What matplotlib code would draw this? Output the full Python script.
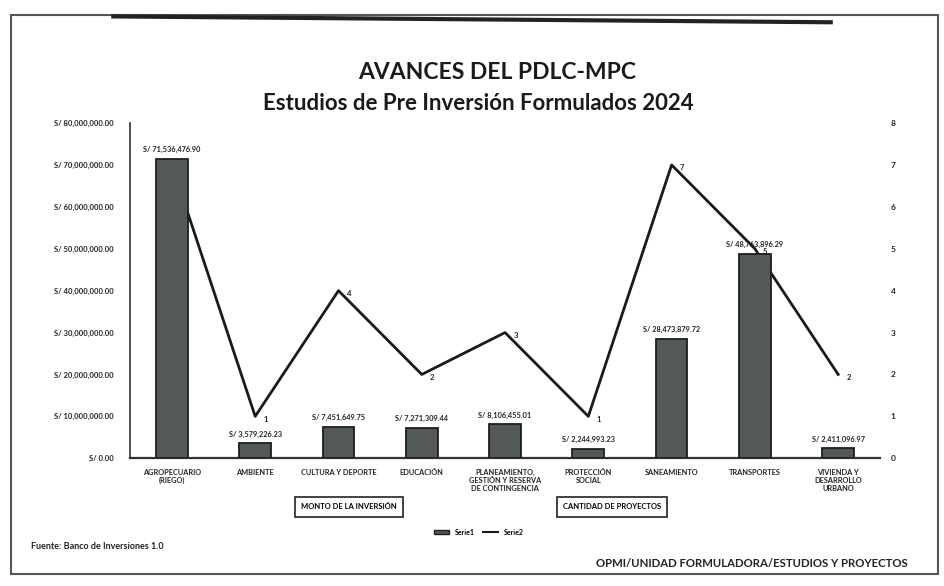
import numpy as np
import matplotlib.pyplot as plt
from matplotlib.patches import Rectangle

plt.rcParams["font.family"] = ["Lato", "DejaVu Sans"]

# datos del gráfico
categorias = [
    "AGROPECUARIO\n(RIEGO)",
    "AMBIENTE",
    "CULTURA Y DEPORTE",
    "EDUCACIÓN",
    "PLANEAMIENTO,\nGESTIÓN Y RESERVA\nDE CONTINGENCIA",
    "PROTECCIÓN\nSOCIAL",
    "SANEAMIENTO",
    "TRANSPORTES",
    "VIVIENDA Y\nDESARROLLO\nURBANO",
]
monto_inversion = [
    71536476.90, 3579226.23, 7451649.75, 7271309.44, 8106455.01,
    2244993.23, 28473879.72, 48763896.29, 2411096.97,
]
cantidad_proyectos = [7, 1, 4, 2, 3, 1, 7, 5, 2]
ticks_monto = [0, 10e6, 20e6, 30e6, 40e6, 50e6, 60e6, 70e6, 80e6]
ticks_cantidad = [0, 1, 2, 3, 4, 5, 6, 7, 8]


def soles(v):
    return "S/ " + f"{v:,.2f}"


fig = plt.figure(figsize=(9.44, 5.86), dpi=100)
ax = fig.add_axes([0.138, 0.218, 0.794, 0.572])
ax2 = ax.twinx()

x = np.arange(len(categorias))

# línea de cantidad de proyectos (eje secundario)
ax2.plot(x, cantidad_proyectos, color="#1a1a1a", linewidth=2.0, zorder=1)
for xi, yi in zip(x, cantidad_proyectos):
    if xi == 0:
        continue
    ax2.annotate(str(yi), xy=(xi, yi), xytext=(6, -2), textcoords="offset points",
                 fontsize=5.5, fontweight="bold", ha="left", va="center", color="#222222")
ax2.set_ylim(0, 8)
ax2.set_yticks(ticks_cantidad)
ax2.set_yticklabels([str(t) for t in ticks_cantidad], fontsize=6, fontweight="bold")
ax2.tick_params(axis="y", length=0, pad=8, colors="#222222")
for s in ax2.spines.values():
    s.set_visible(False)

# barras del monto de inversión encima de la línea
ax.set_zorder(ax2.get_zorder() + 1)
ax.patch.set_visible(False)
ax.bar(x, monto_inversion, width=0.38, color="#525956", edgecolor="#1e1e1e",
       linewidth=1.3, zorder=3)
for xi, v in zip(x, monto_inversion):
    ax.annotate(soles(v), xy=(xi, v), xytext=(0, 4), textcoords="offset points",
                fontsize=5.3, fontweight="bold", ha="center", va="bottom", color="#222222")

ax.set_xlim(-0.5, len(categorias) - 0.5)
ax.set_ylim(0, 80e6)
ax.set_yticks(ticks_monto)
ax.set_yticklabels([soles(t) for t in ticks_monto], fontsize=5.5, fontweight="bold")
ax.set_xticks(x)
ax.set_xticklabels(categorias, fontsize=5.3, fontweight="bold", linespacing=1.1)
ax.tick_params(axis="both", length=0, colors="#222222")
ax.tick_params(axis="y", pad=12)
ax.tick_params(axis="x", pad=8)
ax.spines["top"].set_visible(False)
ax.spines["right"].set_visible(False)
ax.spines["left"].set_color("#333333")
ax.spines["bottom"].set_color("#333333")
ax.spines["left"].set_linewidth(1.2)
ax.spines["bottom"].set_linewidth(1.6)

# títulos
fig.text(0.527, 0.877, "AVANCES DEL PDLC-MPC", fontsize=16.5, fontweight="bold",
         ha="center", va="center", color="#1a1a1a")
fig.text(0.507, 0.824, "Estudios de Pre Inversión Formulados 2024", fontsize=16,
         fontweight="bold", ha="center", va="center", color="#1a1a1a")

# recuadros de nombres de series
fig.text(0.37, 0.135, "MONTO DE LA INVERSIÓN", fontsize=5.5, fontweight="bold",
         ha="center", va="center",
         bbox=dict(boxstyle="square,pad=0.8", fc="white", ec="#222222", lw=1.2))
fig.text(0.648, 0.135, "CANTIDAD DE PROYECTOS", fontsize=5.5, fontweight="bold",
         ha="center", va="center",
         bbox=dict(boxstyle="square,pad=0.8", fc="white", ec="#222222", lw=1.2))

# leyenda
h1 = Rectangle((0, 0), 1, 1, fc="#525956", ec="#1e1e1e")
h2 = plt.Line2D([], [], color="#1a1a1a", lw=1.5)
fig.legend([h1, h2], ["Serie1", "Serie2"], loc="center", bbox_to_anchor=(0.507, 0.092),
           ncol=2, frameon=False, handlelength=2.2, handleheight=0.6,
           columnspacing=1.2, prop={"weight": "bold", "size": 5})

fig.text(0.033, 0.068, "Fuente: Banco de Inversiones 1.0", fontsize=6.5,
         fontweight="bold", ha="left", va="center", color="#222222")
fig.text(0.797, 0.038, "OPMI/UNIDAD FORMULADORA/ESTUDIOS Y PROYECTOS", fontsize=8.2,
         fontweight="bold", ha="center", va="center", color="#222222")

# borde de la hoja
fig.add_artist(Rectangle((0.012, 0.02), 0.982, 0.955, transform=fig.transFigure,
                         fill=False, ec="#555555", lw=1.5))
fig.add_artist(plt.Line2D([0.12, 0.88], [0.972, 0.962], transform=fig.transFigure,
                          color="#222222", lw=3))

fig.savefig("out.png", dpi=100, facecolor="white")
